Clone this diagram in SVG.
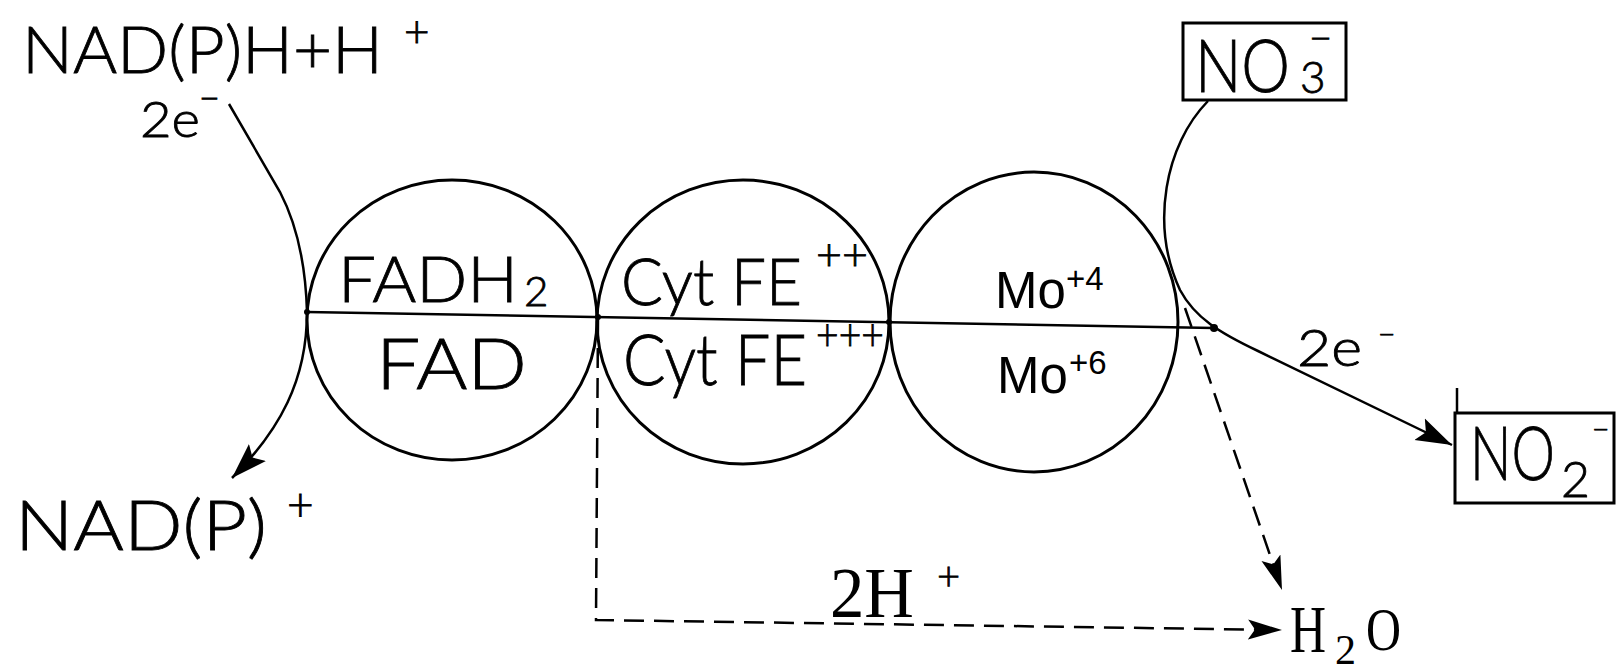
<svg xmlns="http://www.w3.org/2000/svg" width="1616" height="672" viewBox="0 0 1616 672">
<style>
  .bg { fill: #ffffff; }
  .ring { fill: none; stroke: #000; stroke-width: 3; }
  .box { fill: none; stroke: #000; stroke-width: 3; }
  .line { fill: none; stroke: #000; stroke-width: 2.5; }
  .dash { fill: none; stroke: #000; stroke-width: 2.5; stroke-dasharray: 20 10; }
  .hand { font-family: "Lato", "Liberation Sans", Arial, sans-serif; font-weight: 300; fill: #000; stroke: #000; stroke-width: 0.8; }
  .print { font-family: "Liberation Sans", Arial, sans-serif; fill: #000; }
  .type { font-family: "Liberation Serif", "Times New Roman", serif; fill: #000; }
  .dot { fill: #000; }
</style>
<defs>
  <marker id="arrow" markerUnits="userSpaceOnUse" markerWidth="38" markerHeight="26" refX="36" refY="13" orient="auto">
    <path d="M0,1 L36,13 L0,25 L7,13 z" fill="#000"/>
  </marker>
  <marker id="arrowSmall" markerUnits="userSpaceOnUse" markerWidth="36" markerHeight="24" refX="34" refY="12" orient="auto">
    <path d="M0,2 L34,12 L0,22 L7,12 z" fill="#000"/>
  </marker>
</defs>
<rect class="bg" x="0" y="0" width="1616" height="672"/>

<g id="connectors">
  <path id="chain-line" class="line" d="M307 312 L1214 328"/>
  <path id="left-arc" class="line" d="M229 104 L280 192 Q305 240 307 312 C307 380 280 430 232 478" marker-end="url(#arrow)"/>
  <path id="right-arc" class="line" d="M1208 101 C1165 145 1150 225 1180 290 C1195 318 1220 333 1258 351 L1452 445" marker-end="url(#arrow)"/>
  <path id="proton-path" class="dash" d="M598 318 L596 620 L1282 630" marker-end="url(#arrowSmall)"/>
  <path id="oxygen-path" class="dash" d="M1185 308 L1282 590" marker-end="url(#arrowSmall)"/>
  <circle class="dot" cx="1214" cy="328" r="4"/>
  <circle class="dot" cx="889" cy="322" r="3"/>
  <circle class="dot" cx="598" cy="317" r="3"/>
  <circle class="dot" cx="307" cy="312" r="3"/>
</g>

<g id="fad-node">
  <ellipse class="ring" cx="452" cy="320" rx="145" ry="140"/>
  <text class="hand" x="338" y="302" font-size="64" textLength="180" lengthAdjust="spacingAndGlyphs">FADH</text>
  <text class="hand" x="524" y="306" font-size="42">2</text>
  <text class="hand" x="376" y="389" font-size="70" textLength="151" lengthAdjust="spacingAndGlyphs">FAD</text>
</g>

<g id="cyt-node">
  <ellipse class="ring" cx="743" cy="322" rx="146" ry="142"/>
  <text class="hand" x="621" y="305" font-size="66" textLength="181" lengthAdjust="spacingAndGlyphs">Cyt FE</text>
  <text class="hand" x="816" y="270" font-size="44" textLength="52" lengthAdjust="spacingAndGlyphs">++</text>
  <text class="hand" x="623" y="385" font-size="70" textLength="184" lengthAdjust="spacingAndGlyphs">Cyt FE</text>
  <text class="hand" x="816" y="350" font-size="44" textLength="68" lengthAdjust="spacingAndGlyphs">+++</text>
</g>

<g id="mo-node">
  <ellipse class="ring" cx="1034" cy="322" rx="144" ry="150"/>
  <text class="print" x="995" y="308" font-size="51">Mo</text>
  <text class="print" x="1066" y="290" font-size="33">+4</text>
  <text class="print" x="997" y="393" font-size="51">Mo</text>
  <text class="print" x="1069" y="374" font-size="33">+6</text>
</g>

<g id="nadph-node">
  <text class="hand" x="22" y="73" font-size="66" textLength="361" lengthAdjust="spacingAndGlyphs">NAD(P)H+H</text>
  <text class="hand" x="404" y="47" font-size="44">+</text>
</g>

<g id="electrons-left">
  <text class="hand" x="140" y="137" font-size="50" textLength="60" lengthAdjust="spacingAndGlyphs">2e</text>
  <text class="hand" x="199" y="111" font-size="36">−</text>
</g>

<g id="nadp-node">
  <text class="hand" x="15" y="550" font-size="68" textLength="252" lengthAdjust="spacingAndGlyphs">NAD(P)</text>
  <text class="hand" x="287" y="520" font-size="46">+</text>
</g>

<g id="no3-node">
  <rect class="box" x="1183" y="23" width="163" height="77"/>
  <text class="hand" x="1195" y="92" font-size="72" textLength="95" lengthAdjust="spacingAndGlyphs">NO</text>
  <text class="hand" x="1300" y="93" font-size="44">3</text>
  <text class="hand" x="1309" y="52" font-size="40">−</text>
</g>

<g id="electrons-right">
  <text class="hand" x="1297" y="366" font-size="52" textLength="65" lengthAdjust="spacingAndGlyphs">2e</text>
  <text class="hand" x="1378" y="345" font-size="30">−</text>
</g>

<g id="no2-node">
  <rect class="box" x="1455" y="413" width="159" height="90"/>
  <line class="line" x1="1457" y1="388" x2="1457" y2="413"/>
  <text class="hand" x="1470" y="480" font-size="74" textLength="85" lengthAdjust="spacingAndGlyphs">NO</text>
  <text class="hand" x="1561" y="497" font-size="50">2</text>
  <text class="hand" x="1592" y="440" font-size="30">−</text>
</g>

<g id="protons-node">
  <text class="type" x="830" y="617" font-size="72" textLength="84" lengthAdjust="spacingAndGlyphs">2H</text>
  <text class="hand" x="937" y="590" font-size="40">+</text>
</g>

<g id="water-node">
  <text class="type" x="1290" y="652" font-size="68" textLength="36" lengthAdjust="spacingAndGlyphs">H</text>
  <text class="type" x="1335" y="664" font-size="42">2</text>
  <text class="type" x="1366" y="650" font-size="62" textLength="35" lengthAdjust="spacingAndGlyphs">O</text>
</g>
</svg>
